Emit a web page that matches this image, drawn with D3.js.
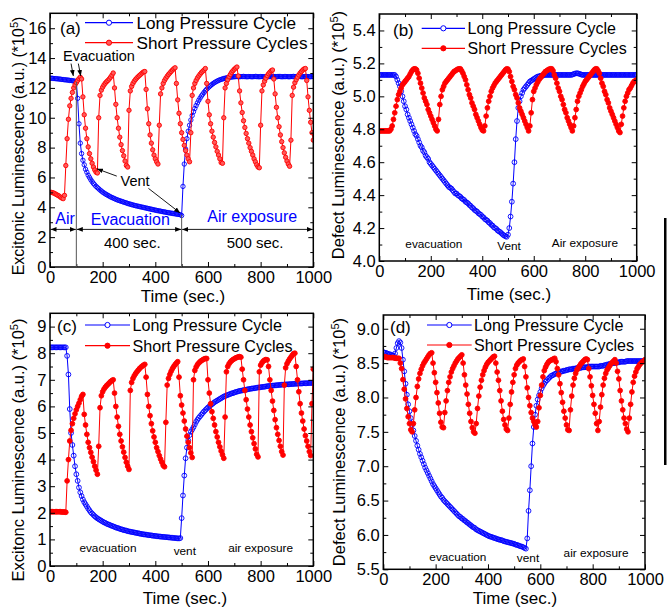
<!DOCTYPE html>
<html>
<head>
<meta charset="utf-8">
<script src="https://cdn.jsdelivr.net/npm/d3@7"></script>
<style>
  body { margin: 0; background: #fff; }
  svg { display: block; }
</style>
</head>
<body>
<svg id="chart" width="667" height="608"></svg>
<script>
// sampling grid of the recordings (one reading every 5 s, 0..1000 s)
const sampleTimes = d3.range(0, 1001, 5);

// x axis ticks (all four panels)
const xTicks = [0, 200, 400, 600, 800, 1000];
const xMinor = [100, 300, 500, 700, 900];

// (a) excitonic luminescence, *10^5
const longA = [
  12.65,12.65,12.64,12.63,12.62,12.62,12.6,12.6,12.58,12.57,12.56,12.55,12.54,12.53,12.52,12.5,12.5,12.48,12.47,12.45,
  12.4,11.3,9.6,8.3,7.6,7.15,6.85,6.55,6.35,6.15,6.0,5.85,5.72,5.6,5.5,5.4,5.32,5.24,5.16,5.09,
  5.02,4.96,4.9,4.85,4.8,4.75,4.7,4.66,4.62,4.58,4.54,4.5,4.47,4.44,4.41,4.38,4.35,4.32,4.29,4.26,
  4.23,4.21,4.18,4.16,4.13,4.11,4.09,4.07,4.05,4.03,4.01,3.99,3.97,3.95,3.93,3.91,3.89,3.87,3.85,3.83,
  3.81,3.79,3.77,3.76,3.74,3.72,3.7,3.69,3.67,3.65,3.64,3.62,3.61,3.59,3.58,3.56,3.55,3.53,3.52,3.5,
  3.45,5.4,6.9,7.9,8.6,9.1,9.5,9.85,10.15,10.4,10.62,10.82,11.0,11.17,11.32,11.46,11.58,11.7,11.81,11.91,
  12.0,12.08,12.16,12.23,12.3,12.36,12.41,12.46,12.5,12.54,12.57,12.6,12.63,12.65,12.67,12.69,12.7,12.72,12.73,12.74,
  12.75,12.76,12.76,12.75,12.75,12.76,12.76,12.77,12.76,12.75,12.75,12.76,12.76,12.75,12.75,12.76,12.77,12.76,12.75,12.75,
  12.76,12.76,12.75,12.75,12.76,12.77,12.76,12.76,12.75,12.75,12.76,12.76,12.75,12.76,12.77,12.76,12.75,12.75,12.76,12.76,
  12.76,12.75,12.75,12.76,12.76,12.77,12.76,12.75,12.75,12.76,12.76,12.75,12.75,12.76,12.76,12.77,12.76,12.75,12.75,12.76,
  12.76
];
const shortA = [
  5.0,5.0,4.98,4.95,4.9,4.85,4.8,4.75,4.68,4.62,4.58,4.8,6.8,8.6,9.9,10.8,11.3,11.7,12.0,12.2,
  12.35,12.5,12.62,12.72,12.6,11.4,10.2,9.3,8.6,8.05,7.6,7.25,6.95,6.7,6.5,6.35,6.3,10.0,11.5,11.85,
  12.05,12.2,12.32,12.42,12.5,12.6,12.72,12.85,13.0,12.0,10.9,10.0,9.3,8.7,8.2,7.8,7.45,7.1,6.8,6.7,
  10.5,11.8,12.1,12.3,12.45,12.57,12.67,12.76,12.84,12.92,13.0,13.07,13.1,11.9,10.6,9.6,8.85,8.3,7.85,7.5,
  7.25,7.05,6.9,9.5,11.6,12.0,12.3,12.5,12.65,12.78,12.9,13.0,13.1,13.2,13.28,13.35,12.3,11.2,10.3,9.6,
  9.0,8.55,8.15,7.8,7.5,7.25,7.05,9.0,11.5,12.0,12.3,12.5,12.67,12.8,12.92,13.03,13.12,13.2,13.3,12.3,
  11.1,10.2,9.6,9.1,8.7,8.35,8.05,7.75,7.5,7.25,7.0,6.95,10.0,12.0,12.3,12.55,12.75,12.9,13.05,13.15,
  13.25,13.33,13.4,12.8,11.8,11.0,10.35,9.8,9.35,8.95,8.6,8.3,8.0,7.75,7.5,7.25,7.05,6.85,6.7,6.65,
  9.5,11.8,12.2,12.45,12.65,12.82,12.95,13.05,13.15,13.2,12.6,11.6,10.7,10.0,9.4,8.85,8.4,8.0,7.65,7.35,
  7.1,6.9,6.75,8.5,11.5,12.05,12.35,12.55,12.72,12.87,13.0,13.1,13.2,13.27,13.3,12.5,11.4,10.5,9.7,9.0,
  8.5
];
const yTicksA = [0, 2, 4, 6, 8, 10, 12, 14, 16];
const yMinorA = [1, 3, 5, 7, 9, 11, 13, 15];

// (b) defect luminescence, *10^5
const longB = [
  5.13,5.13,5.13,5.13,5.13,5.13,5.13,5.13,5.13,5.13,5.13,5.13,5.13,5.12,5.1,5.08,5.06,5.03,5.0,4.97,
  4.94,4.92,4.89,4.87,4.85,4.83,4.81,4.79,4.77,4.76,4.74,4.72,4.7,4.69,4.67,4.66,4.64,4.63,4.62,4.6,
  4.59,4.58,4.57,4.56,4.55,4.54,4.53,4.52,4.51,4.5,4.49,4.48,4.47,4.46,4.45,4.445,4.44,4.43,4.42,4.41,
  4.41,4.4,4.395,4.39,4.38,4.375,4.37,4.36,4.355,4.35,4.34,4.335,4.325,4.32,4.31,4.305,4.3,4.29,4.285,4.28,
  4.27,4.265,4.255,4.25,4.245,4.235,4.23,4.22,4.215,4.205,4.2,4.195,4.185,4.18,4.175,4.168,4.16,4.155,4.15,4.147,
  4.16,4.2,4.27,4.36,4.47,4.6,4.74,4.85,4.93,4.97,5.0,5.02,5.04,5.05,5.06,5.07,5.08,5.09,5.095,5.1,
  5.105,5.11,5.115,5.12,5.12,5.125,5.125,5.125,5.13,5.13,5.13,5.13,5.13,5.13,5.13,5.13,5.13,5.13,5.13,5.13,
  5.13,5.13,5.13,5.13,5.13,5.13,5.13,5.13,5.13,5.13,5.132,5.135,5.138,5.14,5.14,5.138,5.135,5.132,5.13,5.13,
  5.13,5.13,5.13,5.13,5.13,5.13,5.13,5.13,5.13,5.13,5.13,5.13,5.13,5.13,5.13,5.13,5.13,5.13,5.13,5.13,
  5.13,5.13,5.13,5.13,5.13,5.13,5.13,5.13,5.13,5.13,5.13,5.13,5.13,5.13,5.13,5.13,5.13,5.13,5.13,5.13,
  5.13
];
const shortB = [
  4.79,4.79,4.79,4.79,4.79,4.79,4.79,4.79,4.79,4.8,4.82,4.86,4.9,4.94,4.98,5.01,5.03,5.05,5.07,5.08,
  5.09,5.1,5.11,5.12,5.135,5.15,5.16,5.167,5.167,5.16,5.14,5.11,5.08,5.05,5.02,4.99,4.97,4.95,4.92,4.9,
  4.88,4.86,4.84,4.82,4.8,4.79,4.86,4.95,5.0,5.04,5.06,5.08,5.09,5.1,5.11,5.12,5.13,5.14,5.15,5.155,
  5.16,5.165,5.167,5.167,5.155,5.14,5.12,5.1,5.07,5.04,5.01,4.99,4.96,4.94,4.92,4.89,4.87,4.85,4.83,4.81,
  4.795,4.79,4.82,4.88,4.93,4.97,5.0,5.03,5.05,5.065,5.08,5.09,5.1,5.11,5.12,5.13,5.14,5.15,5.16,5.167,
  5.165,5.15,5.12,5.09,5.06,5.04,5.01,4.99,4.96,4.93,4.91,4.89,4.87,4.85,4.83,4.81,4.79,4.82,4.9,4.98,
  5.03,5.05,5.07,5.085,5.1,5.11,5.12,5.13,5.14,5.15,5.155,5.16,5.165,5.167,5.167,5.155,5.13,5.11,5.08,5.05,
  5.03,5.0,4.98,4.95,4.92,4.9,4.87,4.85,4.83,4.81,4.79,4.82,4.87,4.92,4.97,5.0,5.02,5.04,5.06,5.075,
  5.09,5.1,5.11,5.12,5.13,5.14,5.15,5.16,5.167,5.167,5.155,5.14,5.11,5.08,5.06,5.03,5.01,4.98,4.96,4.93,
  4.91,4.89,4.87,4.85,4.83,4.81,4.79,4.78,4.83,4.88,4.93,4.97,5.0,5.02,5.04,5.05,5.065,5.08,5.09,5.095,
  5.1
];
const yTicksB = [4.0, 4.2, 4.4, 4.6, 4.8, 5.0, 5.2, 5.4];
const yMinorB = [4.1, 4.3, 4.5, 4.7, 4.9, 5.1, 5.3];

// (c) excitonic luminescence, second sample, *10^5
const longC = [
  8.22,8.22,8.22,8.22,8.22,8.22,8.22,8.22,8.22,8.22,8.22,8.22,8.22,7.9,7.2,5.9,5.0,4.55,4.15,3.75,
  3.45,3.2,2.95,2.77,2.63,2.5,2.4,2.32,2.24,2.16,2.09,2.02,1.97,1.92,1.87,1.83,1.79,1.76,1.73,1.7,
  1.67,1.64,1.62,1.59,1.57,1.55,1.53,1.51,1.49,1.47,1.45,1.43,1.42,1.4,1.38,1.37,1.35,1.34,1.33,1.31,
  1.3,1.29,1.28,1.27,1.26,1.25,1.24,1.23,1.22,1.21,1.2,1.19,1.185,1.18,1.17,1.16,1.155,1.15,1.14,1.135,
  1.13,1.12,1.115,1.11,1.105,1.1,1.095,1.09,1.085,1.08,1.075,1.07,1.065,1.06,1.055,1.05,1.045,1.04,1.035,1.05,
  1.8,2.65,3.4,4.05,4.45,4.72,4.92,5.05,5.13,5.22,5.32,5.42,5.5,5.57,5.63,5.69,5.75,5.81,5.86,5.91,
  5.96,6.0,6.04,6.08,6.12,6.16,6.19,6.22,6.25,6.28,6.31,6.34,6.37,6.39,6.41,6.43,6.45,6.47,6.49,6.5,
  6.52,6.54,6.55,6.57,6.58,6.59,6.6,6.61,6.62,6.63,6.64,6.65,6.66,6.67,6.675,6.68,6.69,6.7,6.71,6.715,
  6.72,6.73,6.735,6.74,6.75,6.76,6.765,6.77,6.775,6.78,6.785,6.79,6.795,6.8,6.805,6.81,6.815,6.82,6.82,6.825,
  6.83,6.83,6.835,6.84,6.84,6.845,6.85,6.85,6.855,6.86,6.86,6.86,6.865,6.87,6.87,6.87,6.875,6.88,6.88,6.88,
  6.88
];
const shortC = [
  2.04,2.04,2.04,2.04,2.04,2.04,2.04,2.04,2.04,2.03,2.03,2.03,2.02,3.2,4.0,4.7,5.1,5.35,5.55,5.72,
  5.87,6.0,6.12,6.25,6.38,6.45,5.7,5.3,4.95,4.65,4.45,4.27,4.09,3.92,3.75,3.6,3.45,4.5,5.95,6.4,
  6.55,6.65,6.72,6.78,6.83,6.88,6.93,6.97,7.0,6.5,6.0,5.6,5.25,4.95,4.7,4.48,4.28,4.08,3.9,3.75,
  3.63,6.6,6.9,7.05,7.15,7.23,7.3,7.36,7.42,7.47,7.51,7.55,7.58,7.1,6.45,6.0,5.65,5.35,5.08,4.85,
  4.65,4.45,4.3,4.15,4.02,3.9,3.78,3.73,5.4,6.8,7.05,7.2,7.32,7.42,7.5,7.57,7.63,7.68,7.1,6.4,
  6.05,5.75,5.45,5.15,4.88,4.65,4.45,4.25,4.08,7.0,7.35,7.48,7.57,7.63,7.68,7.72,7.75,7.78,7.8,7.8,
  7.0,6.5,6.1,5.8,5.55,5.3,5.05,4.85,4.65,4.48,4.32,4.18,4.05,5.6,7.3,7.5,7.6,7.67,7.72,7.76,
  7.79,7.82,7.84,7.86,7.87,7.85,7.4,7.0,6.6,6.25,5.9,5.6,5.3,5.05,4.82,4.6,4.4,4.2,4.1,7.3,
  7.55,7.64,7.7,7.74,7.76,7.75,7.5,7.0,6.6,6.2,5.85,5.5,5.2,4.95,4.72,4.5,4.3,4.17,6.8,7.45,
  7.6,7.7,7.78,7.85,7.92,7.98,8.0,7.5,7.0,6.55,6.1,5.75,5.45,5.15,4.9,4.7,4.5,4.3,4.15,6.1,
  7.4
];
const yTicksC = [0, 1, 2, 3, 4, 5, 6, 7, 8, 9];
const yMinorC = [0.5, 1.5, 2.5, 3.5, 4.5, 5.5, 6.5, 7.5, 8.5];

// (d) defect luminescence, second sample, *10^5
const longD = [
  8.66,8.65,8.65,8.64,8.63,8.63,8.62,8.61,8.61,8.64,8.72,8.79,8.82,8.8,8.72,8.55,8.38,8.2,8.04,7.9,
  7.8,7.7,7.6,7.52,7.44,7.37,7.3,7.24,7.18,7.13,7.08,7.03,6.98,6.94,6.9,6.86,6.82,6.78,6.74,6.71,
  6.68,6.65,6.62,6.59,6.56,6.54,6.51,6.49,6.47,6.45,6.43,6.41,6.39,6.37,6.35,6.33,6.31,6.29,6.27,6.26,
  6.24,6.23,6.21,6.2,6.18,6.17,6.15,6.14,6.12,6.11,6.1,6.08,6.07,6.06,6.05,6.04,6.03,6.02,6.01,6.0,
  5.99,5.98,5.975,5.97,5.96,5.955,5.95,5.94,5.935,5.93,5.925,5.92,5.91,5.905,5.9,5.895,5.89,5.885,5.88,5.875,
  5.87,5.86,5.855,5.85,5.84,5.835,5.83,5.82,5.81,5.8,5.95,6.35,6.65,7.0,7.33,7.57,7.75,7.88,7.97,8.03,
  8.08,8.13,8.17,8.2,8.23,8.25,8.27,8.29,8.31,8.32,8.33,8.34,8.35,8.36,8.37,8.37,8.38,8.38,8.39,8.39,
  8.4,8.4,8.41,8.41,8.41,8.42,8.42,8.42,8.43,8.43,8.43,8.43,8.44,8.44,8.44,8.44,8.44,8.45,8.45,8.45,
  8.45,8.45,8.45,8.45,8.45,8.45,8.46,8.46,8.46,8.47,8.47,8.48,8.48,8.49,8.49,8.5,8.5,8.5,8.51,8.51,
  8.51,8.52,8.52,8.52,8.52,8.52,8.53,8.53,8.53,8.53,8.53,8.53,8.53,8.53,8.53,8.53,8.53,8.53,8.53,8.53,
  8.53
];
const shortD = [
  8.6,8.59,8.59,8.58,8.58,8.58,8.58,8.58,8.58,8.57,8.57,8.57,8.57,8.5,8.42,8.26,8.12,7.98,7.84,7.72,
  7.62,7.53,7.5,7.62,7.82,8.0,8.16,8.27,8.35,8.41,8.46,8.5,8.53,8.56,8.59,8.62,8.64,8.65,8.5,8.36,
  8.22,8.07,7.92,7.77,7.64,7.57,7.56,7.78,7.95,8.1,8.22,8.3,8.37,8.42,8.46,8.5,8.53,8.56,8.58,8.6,
  8.62,8.5,8.33,8.18,8.05,7.9,7.77,7.65,7.56,7.5,7.48,7.62,7.84,8.02,8.15,8.25,8.33,8.39,8.44,8.48,
  8.51,8.53,8.55,8.57,8.59,8.6,8.5,8.37,8.25,8.1,7.95,7.8,7.68,7.6,7.54,7.52,7.7,7.9,8.08,8.22,
  8.33,8.42,8.47,8.5,8.52,8.54,8.55,8.56,8.45,8.3,8.14,8.0,7.88,7.78,7.7,7.65,7.6,7.57,7.65,7.85,
  8.03,8.18,8.3,8.39,8.44,8.48,8.51,8.53,8.54,8.55,8.56,8.57,8.52,8.42,8.33,8.2,8.07,7.93,7.8,7.7,
  7.6,7.53,7.52,7.82,8.02,8.18,8.28,8.35,8.4,8.43,8.46,8.49,8.51,8.53,8.55,8.56,8.55,8.42,8.3,8.17,
  8.03,7.9,7.77,7.62,7.52,7.65,7.86,8.04,8.18,8.28,8.35,8.4,8.43,8.46,8.49,8.51,8.53,8.55,8.5,8.38,
  8.27,8.1,7.95,7.82,7.7,7.62,7.54,7.5,7.7,7.9,8.08,8.22,8.31,8.37,8.42,8.45,8.48,8.5,8.52,8.53,
  8.55
];
const yTicksD = [5.5, 6.0, 6.5, 7.0, 7.5, 8.0, 8.5, 9.0];
const yMinorD = [5.75, 6.25, 6.75, 7.25, 7.75, 8.25, 8.75];

const seriesNames = ["Long Pressure Cycle", "Short Pressure Cycles"];

const FONT = "'Liberation Sans', Arial, Helvetica, sans-serif";
const BLUE = "#0000ff";
const RED = "#ff0000";

const svg = d3.select("#chart");
const defs = svg.append("defs");

// small filled arrow head for the annotations
defs.append("marker")
    .attr("id", "arr")
    .attr("viewBox", "0 0 10 10")
    .attr("refX", 10).attr("refY", 5)
    .attr("markerWidth", 6).attr("markerHeight", 6)
    .attr("markerUnits", "userSpaceOnUse")
    .attr("orient", "auto-start-reverse")
  .append("path")
    .attr("d", "M0,1 L10,5 L0,9 Z")
    .attr("fill", "#000");

const panels = [
  {
    key: "a", left: 50, right: 313.3, top: 13.3, bottom: 267,
    yDomain: [0, 17], yTicks: yTicksA, yMinor: yMinorA, fmt: d3.format("d"),
    long: longA, short: shortA, redFill: "#ff5a5a", r: 2.2,
    title: "Excitonic Luminescence (a.u.) (*10", titleX: 23.5, titleY: 146, titleSize: 16,
    xTitleX: 183, xTitleY: 302,
    tag: "(a)", tagX: 60, tagY: 34,
    leg: { x1: 85, x2: 133, y1: 22.7, y2: 42.7, tx: 136.5, size: 17.2 }
  },
  {
    key: "b", left: 379.3, right: 636.7, top: 14, bottom: 261,
    yDomain: [4.0, 5.5], yTicks: yTicksB, yMinor: yMinorB, fmt: d3.format(".1f"),
    long: longB, short: shortB, redFill: RED, r: 2.4,
    title: "Defect Luminescence (a.u.) (*10", titleX: 344, titleY: 135, titleSize: 16.5,
    xTitleX: 509, xTitleY: 300,
    tag: "(b)", tagX: 393, tagY: 36,
    leg: { x1: 421.7, x2: 465, y1: 28.3, y2: 48.3, tx: 467.5, size: 16 },
    notes: [
      { t: 212, v: 4.079, text: "evacuation" },
      { t: 504, v: 4.067, text: "Vent" },
      { t: 799, v: 4.083, text: "Air exposure" }
    ]
  },
  {
    key: "c", left: 50, right: 313.3, top: 313.3, bottom: 566,
    yDomain: [0, 9.5], yTicks: yTicksC, yMinor: yMinorC, fmt: d3.format("d"),
    long: longC, short: shortC, redFill: RED, r: 2.4,
    title: "Excitonc Luminescence (a.u.) (*10", titleX: 23.5, titleY: 450, titleSize: 16.5,
    xTitleX: 185, xTitleY: 604,
    tag: "(c)", tagX: 57, tagY: 332,
    leg: { x1: 85, x2: 130, y1: 325, y2: 345.7, tx: 132.5, size: 16.1 },
    notes: [
      { t: 220, v: 0.53, text: "evacuation" },
      { t: 512, v: 0.41, text: "vent" },
      { t: 800, v: 0.54, text: "air exposure" }
    ]
  },
  {
    key: "d", left: 383.3, right: 645, top: 315, bottom: 569.3,
    yDomain: [5.5, 9.2], yTicks: yTicksD, yMinor: yMinorD, fmt: d3.format(".1f"),
    long: longD, short: shortD, redFill: RED, r: 2.4,
    title: "Defect Luminescence (a.u.) (*10", titleX: 345, titleY: 442, titleSize: 16.5,
    xTitleX: 515, xTitleY: 604,
    tag: "(d)", tagX: 390, tagY: 333,
    leg: { x1: 427, x2: 471.7, y1: 325, y2: 345, tx: 474, size: 16.1 },
    notes: [
      { t: 285, v: 5.62, text: "evacuation" },
      { t: 553, v: 5.61, text: "vent" },
      { t: 813, v: 5.674, text: "air exposure" }
    ]
  }
];

function drawPanel(p) {
  const x = d3.scaleLinear().domain([0, 1000]).range([p.left, p.right]);
  const y = d3.scaleLinear().domain(p.yDomain).range([p.bottom, p.top]);
  const g = svg.append("g").attr("class", "panel-" + p.key);

  defs.append("clipPath").attr("id", "clip-" + p.key)
    .append("rect")
      .attr("x", p.left).attr("y", p.top)
      .attr("width", p.right - p.left).attr("height", p.bottom - p.top);

  const plot = g.append("g").attr("clip-path", `url(#clip-${p.key})`);
  const line = d3.line().x((d, i) => x(sampleTimes[i])).y(d => y(d));

  // long cycle: open blue circles
  plot.append("path").datum(p.long)
      .attr("d", line).attr("fill", "none").attr("stroke", BLUE).attr("stroke-width", 1);
  plot.append("g").selectAll("circle").data(p.long).join("circle")
      .attr("cx", (d, i) => x(sampleTimes[i])).attr("cy", d => y(d)).attr("r", p.r)
      .attr("fill", "none").attr("stroke", BLUE).attr("stroke-width", 0.9);

  // short cycles: filled red circles
  plot.append("path").datum(p.short)
      .attr("d", line).attr("fill", "none").attr("stroke", RED).attr("stroke-width", 1);
  plot.append("g").selectAll("circle").data(p.short).join("circle")
      .attr("cx", (d, i) => x(sampleTimes[i])).attr("cy", d => y(d)).attr("r", p.r)
      .attr("fill", p.redFill).attr("stroke", RED).attr("stroke-width", 0.9);

  // axes, ticks pointing inwards on all four sides
  const addAxis = (gen, tx, ty) => {
    const a = g.append("g").attr("transform", `translate(${tx},${ty})`).call(gen);
    a.select(".domain").remove();
    a.selectAll("line").attr("stroke", "#000").attr("stroke-width", 1);
    a.attr("font-family", FONT).attr("font-size", 16.5);
    a.selectAll("text").attr("fill", "#000");
    return a;
  };
  addAxis(d3.axisBottom(x).tickValues(xTicks).tickSizeInner(-5).tickSizeOuter(0)
            .tickPadding(4).tickFormat(d3.format("d")), 0, p.bottom);
  addAxis(d3.axisBottom(x).tickValues(xMinor).tickSize(-3).tickFormat(""), 0, p.bottom);
  addAxis(d3.axisTop(x).tickValues(xTicks).tickSize(-5).tickFormat(""), 0, p.top);
  addAxis(d3.axisTop(x).tickValues(xMinor).tickSize(-3).tickFormat(""), 0, p.top);
  addAxis(d3.axisLeft(y).tickValues(p.yTicks).tickSizeInner(-5).tickSizeOuter(0)
            .tickPadding(3.5).tickFormat(p.fmt), p.left, 0);
  addAxis(d3.axisLeft(y).tickValues(p.yMinor).tickSize(-3).tickFormat(""), p.left, 0);
  addAxis(d3.axisRight(y).tickValues(p.yTicks).tickSize(-5).tickFormat(""), p.right, 0);
  addAxis(d3.axisRight(y).tickValues(p.yMinor).tickSize(-3).tickFormat(""), p.right, 0);

  g.append("rect")
      .attr("x", p.left).attr("y", p.top)
      .attr("width", p.right - p.left).attr("height", p.bottom - p.top)
      .attr("fill", "none").attr("stroke", "#000").attr("stroke-width", 1.5);

  // axis titles
  g.append("text")
      .attr("x", p.xTitleX).attr("y", p.xTitleY)
      .attr("text-anchor", "middle").attr("font-family", FONT).attr("font-size", 17)
      .text("Time (sec.)");

  const yt = g.append("text")
      .attr("transform", `translate(${p.titleX},${p.titleY}) rotate(-90)`)
      .attr("text-anchor", "middle").attr("font-family", FONT).attr("font-size", p.titleSize);
  yt.append("tspan").text(p.title);
  yt.append("tspan").attr("dy", -6).attr("font-size", 11).text("5");
  yt.append("tspan").attr("dy", 6).text(")");

  // panel tag and legend
  g.append("text").attr("x", p.tagX).attr("y", p.tagY)
      .attr("font-family", FONT).attr("font-size", 17).text(p.tag);

  const L = p.leg;
  const legRows = [
    { y: L.y1, color: BLUE, fill: "#fff", label: seriesNames[0] },
    { y: L.y2, color: RED, fill: p.redFill, label: seriesNames[1] }
  ];
  legRows.forEach(row => {
    g.append("line").attr("x1", L.x1).attr("x2", L.x2).attr("y1", row.y).attr("y2", row.y)
        .attr("stroke", row.color).attr("stroke-width", 1.2);
    g.append("circle").attr("cx", (L.x1 + L.x2) / 2).attr("cy", row.y).attr("r", 2.6)
        .attr("fill", row.fill).attr("stroke", row.color).attr("stroke-width", 1);
    g.append("text").attr("x", L.tx).attr("y", row.y + 5.8)
        .attr("font-family", FONT).attr("font-size", L.size).text(row.label);
  });

  (p.notes || []).forEach(n => {
    g.append("text").attr("x", x(n.t)).attr("y", y(n.v))
        .attr("text-anchor", "middle").attr("font-family", FONT).attr("font-size", 11.8)
        .text(n.text);
  });

  return { x, y, g };
}

const drawn = panels.map(drawPanel);

// extra annotations of panel (a)
{
  const { x, y, g } = drawn[0];
  const txt = (t, v, s, size, color) => g.append("text")
      .attr("x", x(t)).attr("y", y(v)).attr("text-anchor", "middle")
      .attr("font-family", FONT).attr("font-size", size).attr("fill", color).text(s);
  const arrow = (t1, v1, t2, v2) => g.append("line")
      .attr("x1", x(t1)).attr("y1", y(v1)).attr("x2", x(t2)).attr("y2", y(v2))
      .attr("stroke", "#000").attr("stroke-width", 0.9).attr("marker-end", "url(#arr)");

  // phase boundaries
  g.append("line").attr("x1", x(100)).attr("x2", x(100)).attr("y1", y(12.4)).attr("y2", y(0))
      .attr("stroke", "#555").attr("stroke-width", 1);
  g.append("line").attr("x1", x(500)).attr("x2", x(500)).attr("y1", y(3.5)).attr("y2", y(0))
      .attr("stroke", "#555").attr("stroke-width", 1);

  // duration bars with arrows on both ends
  [[0, 100], [100, 500], [500, 1000]].forEach(([a, b]) => {
    g.append("line").attr("x1", x(a) + 0.5).attr("x2", x(b) - 0.5).attr("y1", y(2.52)).attr("y2", y(2.52))
        .attr("stroke", "#000").attr("stroke-width", 0.9)
        .attr("marker-start", "url(#arr)").attr("marker-end", "url(#arr)");
  });

  txt(186, 13.79, "Evacuation", 14.5, "#000");
  arrow(80, 13.63, 88.6, 12.8);
  arrow(107.6, 13.63, 116.7, 12.8);

  txt(323, 5.42, "Vent", 14.5, "#000");
  arrow(253.6, 6.09, 178, 6.58);
  arrow(373.8, 5.27, 494.3, 3.62);

  txt(57, 2.91, "Air", 16, BLUE);
  txt(305, 2.81, "Evacuation", 16, BLUE);
  txt(768, 3.03, "Air exposure", 16, BLUE);
  txt(312.5, 1.25, "400 sec.", 15, "#000");
  txt(779, 1.25, "500 sec.", 15, "#000");
}

// vertical bar at the right margin of the figure
svg.append("rect").attr("x", 664).attr("y", 218).attr("width", 2.5).attr("height", 247).attr("fill", "#000");
</script>
</body>
</html>
